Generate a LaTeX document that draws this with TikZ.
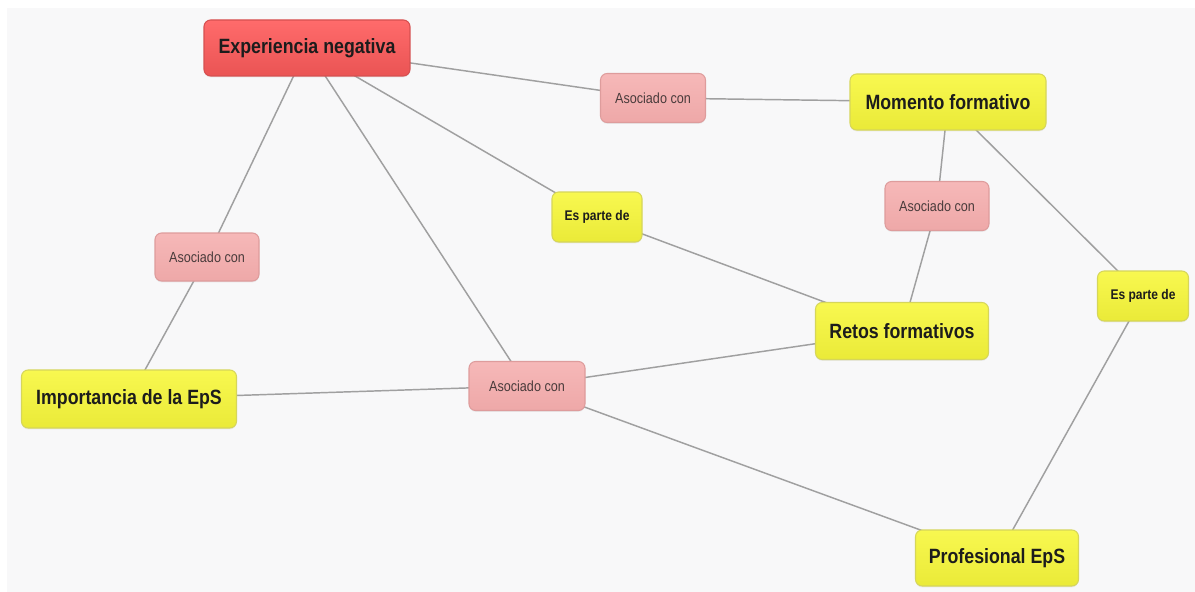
\documentclass[tikz,border=0pt]{standalone}
\usepackage{fontspec}
\setmainfont{Liberation Sans}[FakeStretch=0.86]
\usetikzlibrary{shadows}
\pgfdeclarelayer{background}
\pgfsetlayers{background,main}
\definecolor{canvas}{HTML}{F8F8F9}
\definecolor{linkgray}{HTML}{A0A0A0}
\definecolor{redtop}{HTML}{FF6B6B}
\definecolor{redbot}{HTML}{EA5454}
\definecolor{redline}{HTML}{D65050}
\definecolor{yeltop}{HTML}{F8F850}
\definecolor{yelbot}{HTML}{EAEA38}
\definecolor{yelline}{HTML}{D6D65A}
\definecolor{pinktop}{HTML}{F6B8B8}
\definecolor{pinkbot}{HTML}{EEA8A8}
\definecolor{pinkline}{HTML}{DE9C9C}
\definecolor{inkdark}{HTML}{1C1C1C}
\definecolor{inksoft}{HTML}{4A3C3C}
\tikzset{
  x=0.75pt, y=-0.75pt,
  size/.style 2 args={minimum width=#1*0.75pt, minimum height=#2*0.75pt},
  box/.style={rectangle, rounded corners=5pt, line width=0.8pt, inner sep=0pt,
    drop shadow={shadow xshift=0pt, shadow yshift=-1pt, opacity=0.12}},
  concept/.style={box, font=\fontsize{15.5}{18}\selectfont\bfseries, text=inkdark},
  rednode/.style={concept, draw=redline, top color=redtop, bottom color=redbot},
  yelnode/.style={concept, draw=yelline, top color=yeltop, bottom color=yelbot},
  linkpink/.style={box, draw=pinkline, top color=pinktop, bottom color=pinkbot,
    font=\fontsize{11}{13}\selectfont, text=inksoft},
  linkyel/.style={box, draw=yelline, top color=yeltop, bottom color=yelbot,
    font=\fontsize{10.5}{12}\selectfont\bfseries, text=inkdark},
  link/.style={draw=linkgray, line width=1.1pt}
}
\begin{document}
\begin{tikzpicture}
\useasboundingbox (0,0) rectangle (1195,592);

% concept nodes
\node[rednode, size={206}{56}] (en) at (307,48) {Experiencia negativa};
\node[yelnode, size={196}{56}] (mf) at (948,102) {Momento formativo};
\node[yelnode, size={173}{57}] (rf) at (902,331) {Retos formativos};
\node[yelnode, size={215}{58}] (ie) at (129,399) {Importancia de la EpS};
\node[yelnode, size={163}{56}] (pe) at (997,558) {Profesional EpS};

% linking phrases
\node[linkpink, size={105}{49}] (a1) at (653,98) {Asociado con};
\node[linkpink, size={104}{49}] (a2) at (937,206) {Asociado con};
\node[linkpink, size={104}{48}] (a3) at (207,257) {Asociado con};
\node[linkpink, size={116}{49}] (a4) at (527,386) {Asociado con};
\node[linkyel, size={90}{50}] (p1) at (597,217) {Es parte de};
\node[linkyel, size={91}{50}] (p2) at (1143,296) {Es parte de};

% canvas and connectors, centre to centre, behind the boxes
\begin{pgfonlayer}{background}
  \fill[white] (0,0) rectangle (1195,592);
  \fill[canvas] (7,8) rectangle (1195,592);
  \draw[link] (en.center) -- (a1.center);
  \draw[link] (a1.center) -- (mf.center);
  \draw[link] (en.center) -- (a3.center);
  \draw[link] (a3.center) -- (ie.center);
  \draw[link] (en.center) -- (p1.center);
  \draw[link] (p1.center) -- (rf.center);
  \draw[link] (en.center) -- (a4.center);
  \draw[link] (a4.center) -- (ie.center);
  \draw[link] (a4.center) -- (rf.center);
  \draw[link] (a4.center) -- (pe.center);
  \draw[link] (mf.center) -- (a2.center);
  \draw[link] (a2.center) -- (rf.center);
  \draw[link] (mf.center) -- (p2.center);
  \draw[link] (p2.center) -- (pe.center);
\end{pgfonlayer}
\end{tikzpicture}
\end{document}
